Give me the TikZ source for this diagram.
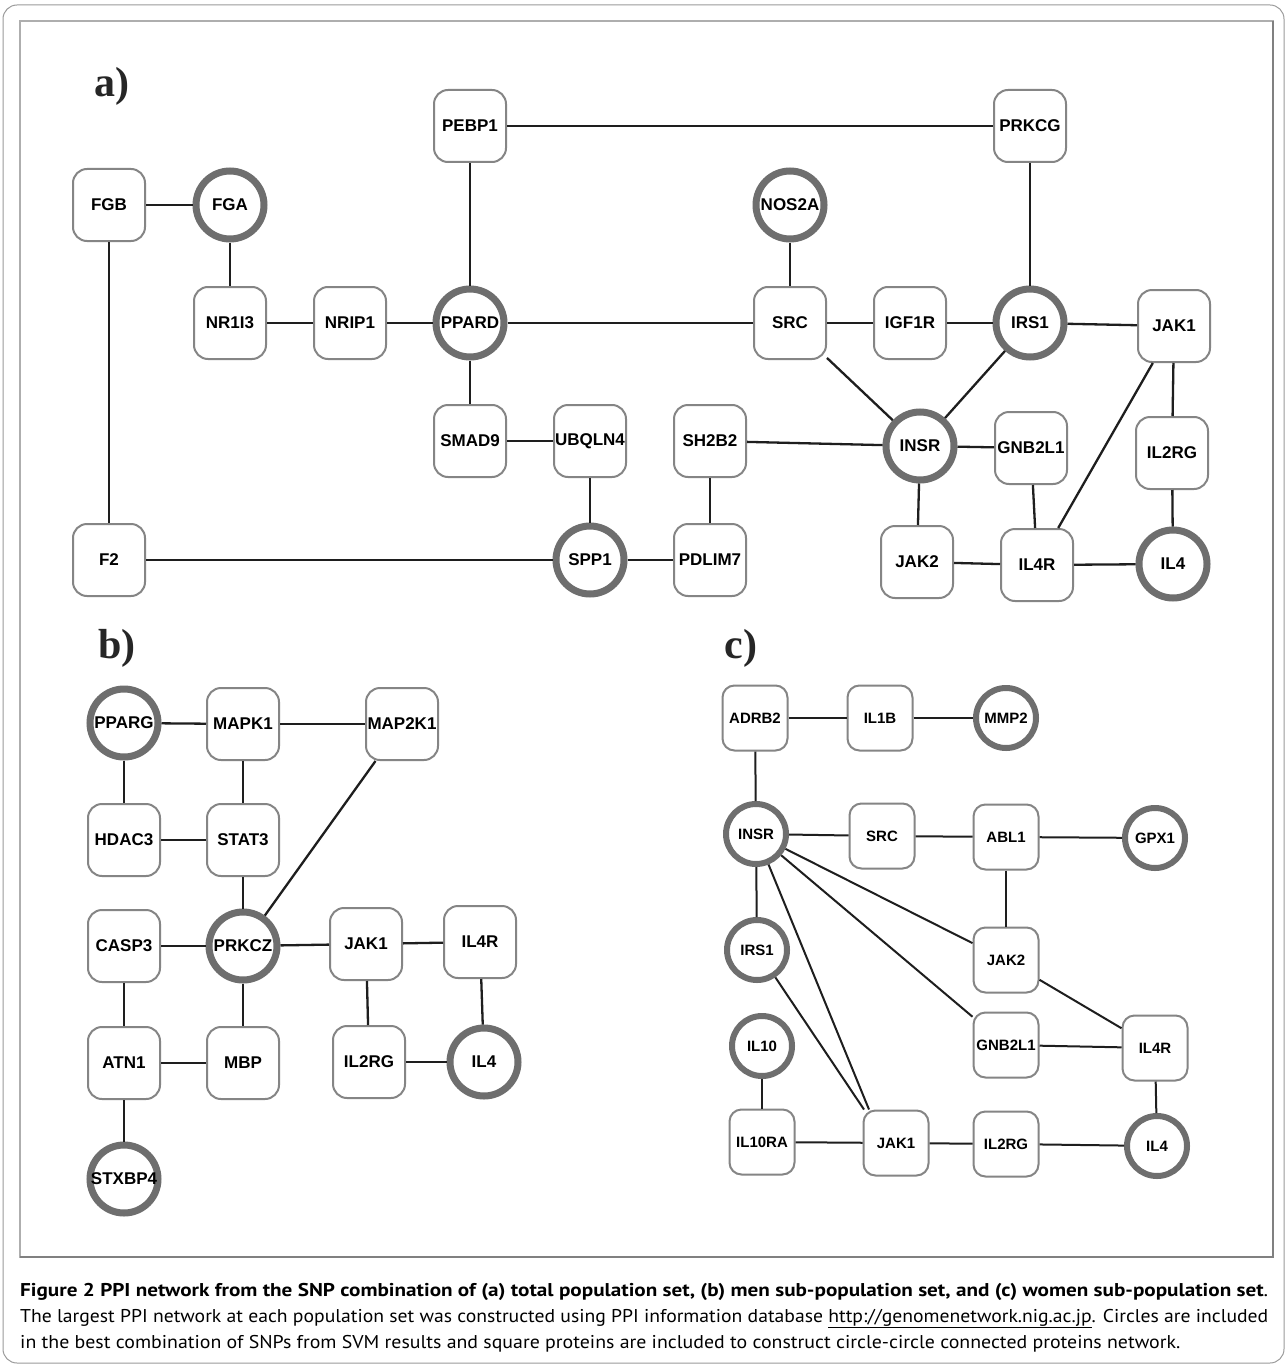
\documentclass[tikz,border=0pt]{standalone}
\usepackage{fontspec}
\usepackage{graphicx}
\setmainfont{Liberation Sans}
\newfontfamily\capfont{PT Sans}
\newfontfamily\panfont{Liberation Serif}
\definecolor{boxgray}{HTML}{858585}
\definecolor{circgray}{HTML}{6E6E6E}
\definecolor{edgecol}{HTML}{1E1E1E}
\definecolor{framegray}{HTML}{9A9A9A}
\newcommand\nm[1]{\makebox[0pt]{#1}}
\begin{document}
\begin{tikzpicture}[x=1pt,y=-1pt,
  box/.style={draw=boxgray, line width=2pt, rounded corners=14pt, minimum width=72pt, minimum height=72pt, fill=white, inner sep=0pt, font=\fontsize{17}{20}\selectfont\bfseries, text=black},
  circ/.style={circle, draw=circgray, line width=7pt, minimum size=68pt, fill=white, inner sep=0pt, font=\fontsize{17}{20}\selectfont\bfseries, text=black},
  sbox/.style={box, minimum width=65pt, minimum height=65pt, rounded corners=12pt, font=\fontsize{15}{18}\selectfont\bfseries},
  scirc/.style={circ, minimum size=60pt, line width=6pt, font=\fontsize{15}{18}\selectfont\bfseries},
  edge/.style={draw=edgecol, line width=2.3pt},
  sedge/.style={draw=edgecol, line width=2pt},
  panel/.style={font=\panfont\fontsize{42}{44}\selectfont\bfseries, text=black!85, inner sep=0pt}]
\useasboundingbox (0,0) rectangle (1286,1367);
\fill[white] (0,0) rectangle (1286,1367);
% frames
\draw[draw=framegray, line width=1pt, rounded corners=14pt] (3,5) rectangle (1284,1363);
\draw[draw=framegray!80, line width=1.5pt] (20,21) rectangle (1273,1257);
\draw[draw=gray, line width=1.5pt] (1273,21) -- (1273,1257) -- (20,1257);
% panel labels
\node[panel] (la) at (112,86) {a)};
\node[panel] (lb) at (117,648) {b)};
\node[panel] (lc) at (741,648) {c)};
% ---------- panel a ----------
\node[box]  (pebp1) at (470,126) {PEBP1};
\node[box]  (prkcg) at (1030,126) {PRKCG};
\node[box]  (fgb)   at (109,205) {FGB};
\node[circ] (fga)   at (230,205) {\nm{FGA}};
\node[circ] (nos2a) at (790,205) {\nm{NOS2A}};
\node[box]  (nr1i3) at (230,323) {NR1I3};
\node[box]  (nrip1) at (350,323) {NRIP1};
\node[circ] (ppard) at (470,323) {\nm{PPARD}};
\node[box]  (asrc)  at (790,323) {SRC};
\node[box]  (igf1r) at (910,323) {IGF1R};
\node[circ] (airs1) at (1030,323) {\nm{IRS1}};
\node[box]  (ajak1) at (1174,326) {JAK1};
\node[box]  (smad9) at (470,441) {SMAD9};
\node[box]  (ubqln4) at (590,441) {\nm{UBQLN4}};
\node[box]  (sh2b2) at (710,441) {SH2B2};
\node[circ] (ainsr) at (920,446) {\nm{INSR}};
\node[box]  (agnb)  at (1031,448) {\nm{GNB2L1}};
\node[box]  (ail2rg) at (1172,453) {IL2RG};
\node[box]  (f2)    at (109,560) {F2};
\node[circ] (spp1)  at (590,560) {\nm{SPP1}};
\node[box]  (pdlim7) at (710,560) {\nm{PDLIM7}};
\node[box]  (ajak2) at (917,562) {JAK2};
\node[box]  (ail4r) at (1037,565) {IL4R};
\node[circ] (ail4)  at (1173,564) {\nm{IL4}};
\begin{scope}[on background layer/.try]
\end{scope}
\path[edge] (fgb) -- (fga);
\path[edge] (fgb) -- (f2);
\path[edge] (fga) -- (nr1i3);
\path[edge] (nr1i3) -- (nrip1);
\path[edge] (nrip1) -- (ppard);
\path[edge] (ppard) -- (pebp1);
\path[edge] (pebp1) -- (prkcg);
\path[edge] (prkcg) -- (airs1);
\path[edge] (ppard) -- (asrc);
\path[edge] (ppard) -- (smad9);
\path[edge] (nos2a) -- (asrc);
\path[edge] (asrc) -- (igf1r);
\path[edge] (igf1r) -- (airs1);
\path[edge] (airs1) -- (ajak1);
\path[edge] (asrc) -- (ainsr);
\path[edge] (airs1) -- (ainsr);
\path[edge] (smad9) -- (ubqln4);
\path[edge] (ubqln4) -- (spp1);
\path[edge] (f2) -- (spp1);
\path[edge] (spp1) -- (pdlim7);
\path[edge] (pdlim7) -- (sh2b2);
\path[edge] (sh2b2) -- (ainsr);
\path[edge] (ainsr) -- (agnb);
\path[edge] (ainsr) -- (ajak2);
\path[edge] (agnb) -- (ail4r);
\path[edge] (ajak1) -- (ail4r);
\path[edge] (ajak1) -- (ail2rg);
\path[edge] (ail2rg) -- (ail4);
\path[edge] (ajak2) -- (ail4r);
\path[edge] (ail4r) -- (ail4);
% ---------- panel b ----------
\node[circ] (pparg)  at (124,723) {\nm{PPARG}};
\node[box]  (mapk1)  at (243,724) {MAPK1};
\node[box]  (map2k1) at (402,724) {\nm{MAP2K1}};
\node[box]  (hdac3)  at (124,840) {HDAC3};
\node[box]  (stat3)  at (243,840) {STAT3};
\node[box]  (casp3)  at (124,946) {CASP3};
\node[circ] (prkcz)  at (243,946) {\nm{PRKCZ}};
\node[box]  (bjak1)  at (366,944) {JAK1};
\node[box]  (bil4r)  at (480,942) {IL4R};
\node[box]  (atn1)   at (124,1063) {ATN1};
\node[box]  (mbp)    at (243,1063) {MBP};
\node[box]  (bil2rg) at (369,1062) {IL2RG};
\node[circ] (bil4)   at (484,1062) {\nm{IL4}};
\node[circ] (stxbp4) at (124,1179) {\nm{STXBP4}};
\path[edge] (pparg) -- (mapk1);
\path[edge] (mapk1) -- (map2k1);
\path[edge] (pparg) -- (hdac3);
\path[edge] (mapk1) -- (stat3);
\path[edge] (hdac3) -- (stat3);
\path[edge] (stat3) -- (prkcz);
\path[edge] (map2k1) -- (prkcz);
\path[edge] (casp3) -- (prkcz);
\path[edge] (prkcz) -- (bjak1);
\path[edge] (bjak1) -- (bil4r);
\path[edge] (casp3) -- (atn1);
\path[edge] (prkcz) -- (mbp);
\path[edge] (bjak1) -- (bil2rg);
\path[edge] (bil4r) -- (bil4);
\path[edge] (atn1) -- (mbp);
\path[edge] (bil2rg) -- (bil4);
\path[edge] (atn1) -- (stxbp4);
% ---------- panel c ----------
\node[sbox]  (adrb2)  at (755,718) {ADRB2};
\node[sbox]  (il1b)   at (880,718) {IL1B};
\node[scirc] (mmp2)   at (1006,718) {\nm{MMP2}};
\node[scirc] (cinsr)  at (756,834) {\nm{INSR}};
\node[sbox]  (csrc)   at (882,836) {SRC};
\node[sbox]  (abl1)   at (1006,837) {ABL1};
\node[scirc] (gpx1)   at (1155,838) {\nm{GPX1}};
\node[scirc] (cirs1)  at (757,950) {\nm{IRS1}};
\node[sbox]  (cjak2)  at (1006,960) {JAK2};
\node[scirc] (il10)   at (762,1046) {\nm{IL10}};
\node[sbox]  (cgnb)   at (1006,1045) {\nm{GNB2L1}};
\node[sbox]  (cil4r)  at (1155,1048) {IL4R};
\node[sbox]  (il10ra) at (762,1142) {IL10RA};
\node[sbox]  (cjak1)  at (896,1143) {JAK1};
\node[sbox]  (cil2rg) at (1006,1144) {IL2RG};
\node[scirc] (cil4)   at (1157,1146) {\nm{IL4}};
\path[sedge] (adrb2) -- (il1b);
\path[sedge] (il1b) -- (mmp2);
\path[sedge] (adrb2) -- (cinsr);
\path[sedge] (cinsr) -- (csrc);
\path[sedge] (csrc) -- (abl1);
\path[sedge] (abl1) -- (gpx1);
\path[sedge] (abl1) -- (cjak2);
\path[sedge] (cinsr) -- (cirs1);
\path[sedge] (cinsr) -- ([xshift=-27pt]cjak1.north);
\path[sedge] (cinsr) -- (cgnb);
\path[sedge] (cinsr) -- (cjak2);
\path[sedge] (cirs1) -- ([xshift=-32pt]cjak1.north);
\path[sedge] (cjak2) -- (cil4r);
\path[sedge] (cgnb) -- (cil4r);
\path[sedge] (cil4r) -- (cil4);
\path[sedge] (il10) -- (il10ra);
\path[sedge] (il10ra) -- (cjak1);
\path[sedge] (cjak1) -- (cil2rg);
\path[sedge] (cil2rg) -- (cil4);
% ---------- caption ----------
\node[anchor=base west, inner sep=0pt, font=\capfont\fontsize{18.5}{22}\selectfont] (cap1) at (20,1296)
  {\resizebox{1248pt}{\height}{\textbf{Figure 2 PPI network from the SNP combination of (a) total population set, (b) men sub-population set, and (c) women sub-population set}.}};
\node[anchor=base west, inner sep=0pt, font=\capfont\fontsize{18.5}{22}\selectfont] (cap2) at (20,1322)
  {\resizebox{1248pt}{\height}{The largest PPI network at each population set was constructed using PPI information database \underline{http://genomenetwork.nig.ac.jp}. Circles are included}};
\node[anchor=base west, inner sep=0pt, font=\capfont\fontsize{18.5}{22}\selectfont] (cap3) at (20,1348)
  {\resizebox{1160pt}{\height}{in the best combination of SNPs from SVM results and square proteins are included to construct circle-circle connected proteins network.}};
\end{tikzpicture}
\end{document}
